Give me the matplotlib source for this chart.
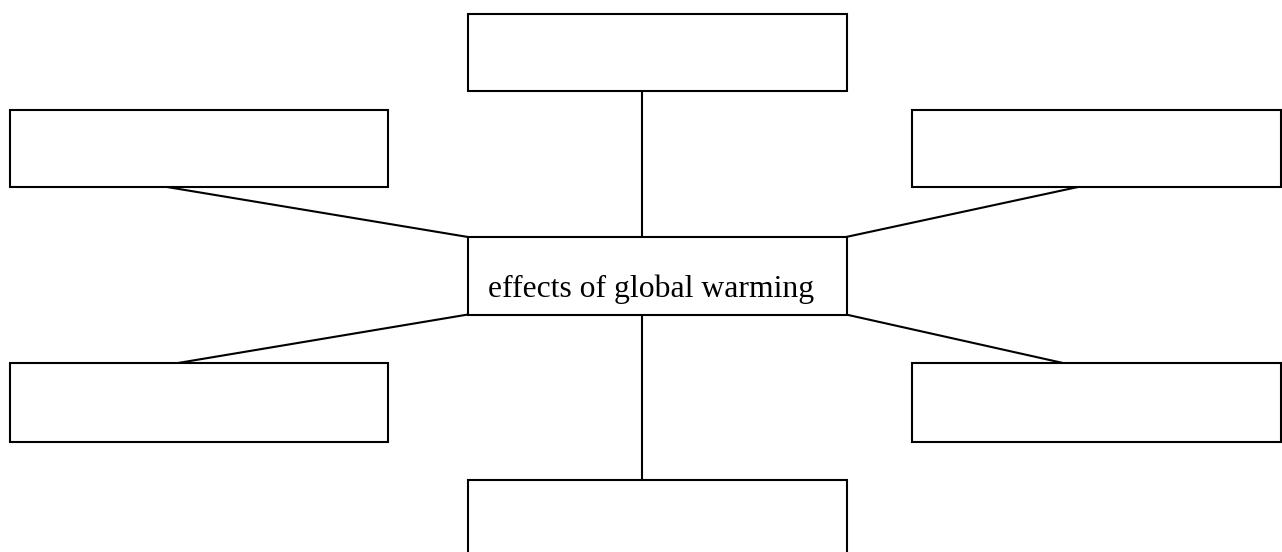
"""Spider diagram: effects of global warming, one centre box and six empty boxes."""
import matplotlib

matplotlib.use("Agg")
import matplotlib.pyplot as plt
from matplotlib.patches import Rectangle

W, H = 1282, 552

# box corners in pixel coords (left, top, right, bottom)
box_names = ["top", "left_top", "right_top", "centre", "left_bottom", "right_bottom", "bottom"]
box_left = [467.5, 9.5, 912, 467.5, 9.5, 912, 467.5]
box_top = [13.5, 109.5, 109.5, 237, 363, 363, 480]
box_right = [846.5, 388, 1281, 846.5, 388, 1281, 846.5]
box_bottom = [90.5, 187, 187, 314.5, 441.5, 441.5, 560]

# connector lines: (x0, y0) -> (x1, y1)
link_x0 = [642, 167, 1078, 468, 846, 642]
link_y0 = [90.5, 187, 187, 314.5, 314.5, 314.5]
link_x1 = [642, 468, 846, 178, 1063, 642]
link_y1 = [237, 237, 237, 363, 363, 480]

centre_label = "effects of global warming"

fig = plt.figure(figsize=(W / 100, H / 100), dpi=100)
ax = fig.add_axes([0, 0, 1, 1])
ax.set_xlim(0, W)
ax.set_ylim(H, 0)
ax.axis("off")

for x0, y0, x1, y1 in zip(link_x0, link_y0, link_x1, link_y1):
    ax.plot([x0, x1], [y0, y1], color="black", lw=1.5, solid_capstyle="butt")

for l, t, r, b in zip(box_left, box_top, box_right, box_bottom):
    ax.add_patch(Rectangle((l, t), r - l, b - t, facecolor="white",
                           edgecolor="black", lw=1.5))

ax.text(651.5, 297, centre_label, ha="center", va="baseline",
        fontsize=22.8, family="Liberation Serif", color="black")

fig.savefig("out.png", dpi=100, facecolor="white")
